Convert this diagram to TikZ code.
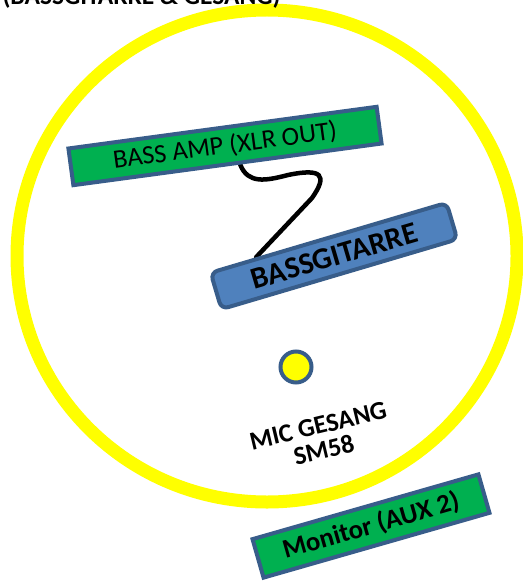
\documentclass[tikz,border=0pt]{standalone}
\usepackage{fontspec}
\setmainfont{Carlito}
\usepackage{tikz}
\usetikzlibrary{calc,backgrounds}
\definecolor{boxgreen}{HTML}{00B050}
\definecolor{boxblue}{HTML}{4F81BD}
\definecolor{boxedge}{HTML}{385D8A}
\definecolor{ringyellow}{HTML}{FFFF00}
\begin{document}
\begin{tikzpicture}[x=1pt,y=-1pt,
	greenbox/.style={draw=boxedge, fill=boxgreen, line width=4pt, inner sep=0pt},
	bluebox/.style={draw=boxedge, fill=boxblue, line width=4pt, inner sep=0pt, rounded corners=7pt}]
\useasboundingbox (0,0) rectangle (522,583);

\draw[ringyellow, line width=13pt] (267,256) ellipse [x radius=250, y radius=246];

\node[anchor=base west] (title) at (-1,5) {\fontsize{25.5}{30}\selectfont\bfseries (BASSGITARRE \& GESANG)};

\node[greenbox, minimum width=311pt, minimum height=37pt, rotate=7.7] (amp) at (225,146)
	{\fontsize{26.4}{30}\selectfont BASS AMP (XLR OUT)};
\node[bluebox, minimum width=246pt, minimum height=38pt, rotate=16.5] (bass) at (334,256)
	{\fontsize{30.5}{34}\selectfont\bfseries BASSGITARRE};
\node[greenbox, minimum width=235pt, minimum height=40pt, rotate=16] (monitor) at (371,526)
	{\fontsize{26.8}{30}\selectfont\bfseries Monitor (AUX 2)};

\filldraw[draw=boxedge, fill=ringyellow, line width=4pt] (296,367) circle (15.5pt);
\node (mic) at (296,367) {};
\node[rotate=13.4, align=center, font=\fontsize{26}{25}\selectfont\bfseries] (miclabel) at (321,438) {MIC GESANG\\SM58};

\begin{scope}[on background layer]
\draw[black, line width=4.5pt, line cap=round]
	($(amp.south west)!0.54!(amp.south east)$) .. controls (248,184) and (265,181) .. (288,175)
	.. controls (322,168) and (328,175) .. (312,198)
	-- ($(bass.north west)!0.2!(bass.north east)$);
\end{scope}
\end{tikzpicture}
\end{document}
